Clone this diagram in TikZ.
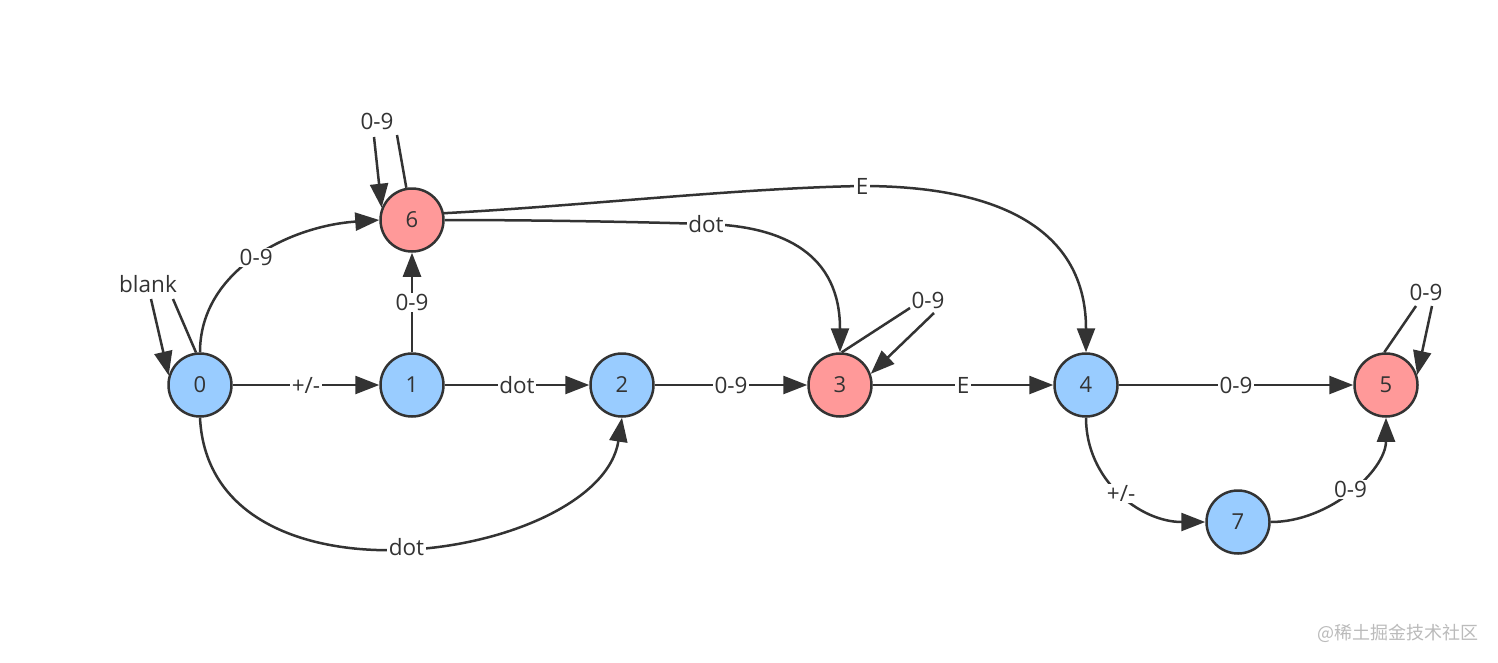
\documentclass[tikz,border=0pt]{standalone}
\usepackage{fontspec}
\setmainfont{Open Sans}
\newfontfamily\cjk{Noto Sans CJK SC}
\usetikzlibrary{arrows.meta}
\definecolor{stroke}{HTML}{333333}
\definecolor{bluefill}{HTML}{99CCFF}
\definecolor{redfill}{HTML}{FF9999}
\definecolor{wm}{HTML}{BBBBBB}
\tikzset{
  state/.style={circle, draw=stroke, line width=2.5pt, minimum size=63pt, inner sep=0pt,
    text=stroke, font=\fontsize{22}{26}\selectfont},
  bstate/.style={state, fill=bluefill},
  rstate/.style={state, fill=redfill},
  edge/.style={draw=stroke, line width=2.5pt, -{Triangle[length=24pt,width=18pt]}},
  plain/.style={draw=stroke, line width=2.5pt},
  lbl/.style={fill=white, inner sep=1.5pt, text=stroke, font=\fontsize{22.5}{26}\selectfont},
}
\begin{document}
\begin{tikzpicture}[x=1pt, y=-1pt]
\useasboundingbox (0,0) rectangle (1498,662);
\fill[white] (0,0) rectangle (1498,662);

% states
\node[bstate] (n0) at (200,385) {0};
\node[bstate] (n1) at (412,385) {1};
\node[bstate] (n2) at (622,385) {2};
\node[rstate] (n3) at (840,385) {3};
\node[bstate] (n4) at (1086,385) {4};
\node[rstate] (n5) at (1386,385) {5};
\node[rstate] (n6) at (412,220) {6};
\node[bstate] (n7) at (1238,522) {7};

% self-loop labels
\node[lbl] (blank) at (148,284) {blank};
\node[lbl] (l6) at (377,121) {0-9};
\node[lbl] (l3) at (928,300) {0-9};
\node[lbl] (l5) at (1426,292) {0-9};

\coordinate (b1) at (173,299);
\coordinate (b2) at (151,299);
\coordinate (s6a) at (374,137);
\coordinate (s6b) at (397,135);
\coordinate (s3a) at (910,308);
\coordinate (s3b) at (934,313);
\coordinate (s5a) at (1416,306);
\coordinate (s5b) at (1432,306);

% self loops
\draw[plain] (n0.97) -- (b1);
\draw[edge] (b2) -- (n0.163);
\draw[plain] (n6.100) -- (s6b);
\draw[edge] (s6a) -- (n6.158);
\draw[plain] (n3.87) -- (s3a);
\draw[edge] (s3b) -- (n3.20);
\draw[plain] (n5.93) -- (s5a);
\draw[edge] (s5b) -- (n5.18);

% straight edges
\draw[edge] (n0) -- node[lbl]{+/-} (n1);
\draw[edge] (n1) -- node[lbl]{dot} (n2);
\draw[edge] (n2) -- node[lbl]{0-9} (n3);
\draw[edge] (n3) -- node[lbl]{E} (n4);
\draw[edge] (n4) -- node[lbl]{0-9} (n5);
\draw[edge] (n1) -- node[lbl, pos=0.5]{0-9} (n6);

% curved edges
\draw[edge] (n0.north) .. controls (200,270) and (290,226) .. node[lbl]{0-9} (n6.west);
\draw[edge] (n0.south) .. controls (210,620) and (600,560) .. node[lbl]{dot} (n2.south);
\draw[edge] (n6.east) .. controls (540,220) and (640,222) .. (706,224) node[lbl]{dot}
  .. controls (785,226) and (840,255) .. (n3.north);
\draw[edge] (n6.12) .. controls (580,206) and (740,188) .. (862,186) node[lbl]{E}
  .. controls (1000,186) and (1086,230) .. (n4.north);
\draw[edge] (n4.south) .. controls (1086,480) and (1140,522) .. node[lbl]{+/-} (n7.west);
\draw[edge] (n7.east) .. controls (1330,522) and (1386,470) .. node[lbl]{0-9} (n5.south);

% watermark
\node[text=wm, font=\cjk\fontsize{18}{22}\selectfont] (wmk) at (1398,633) {@稀土掘金技术社区};
\end{tikzpicture}
\end{document}
